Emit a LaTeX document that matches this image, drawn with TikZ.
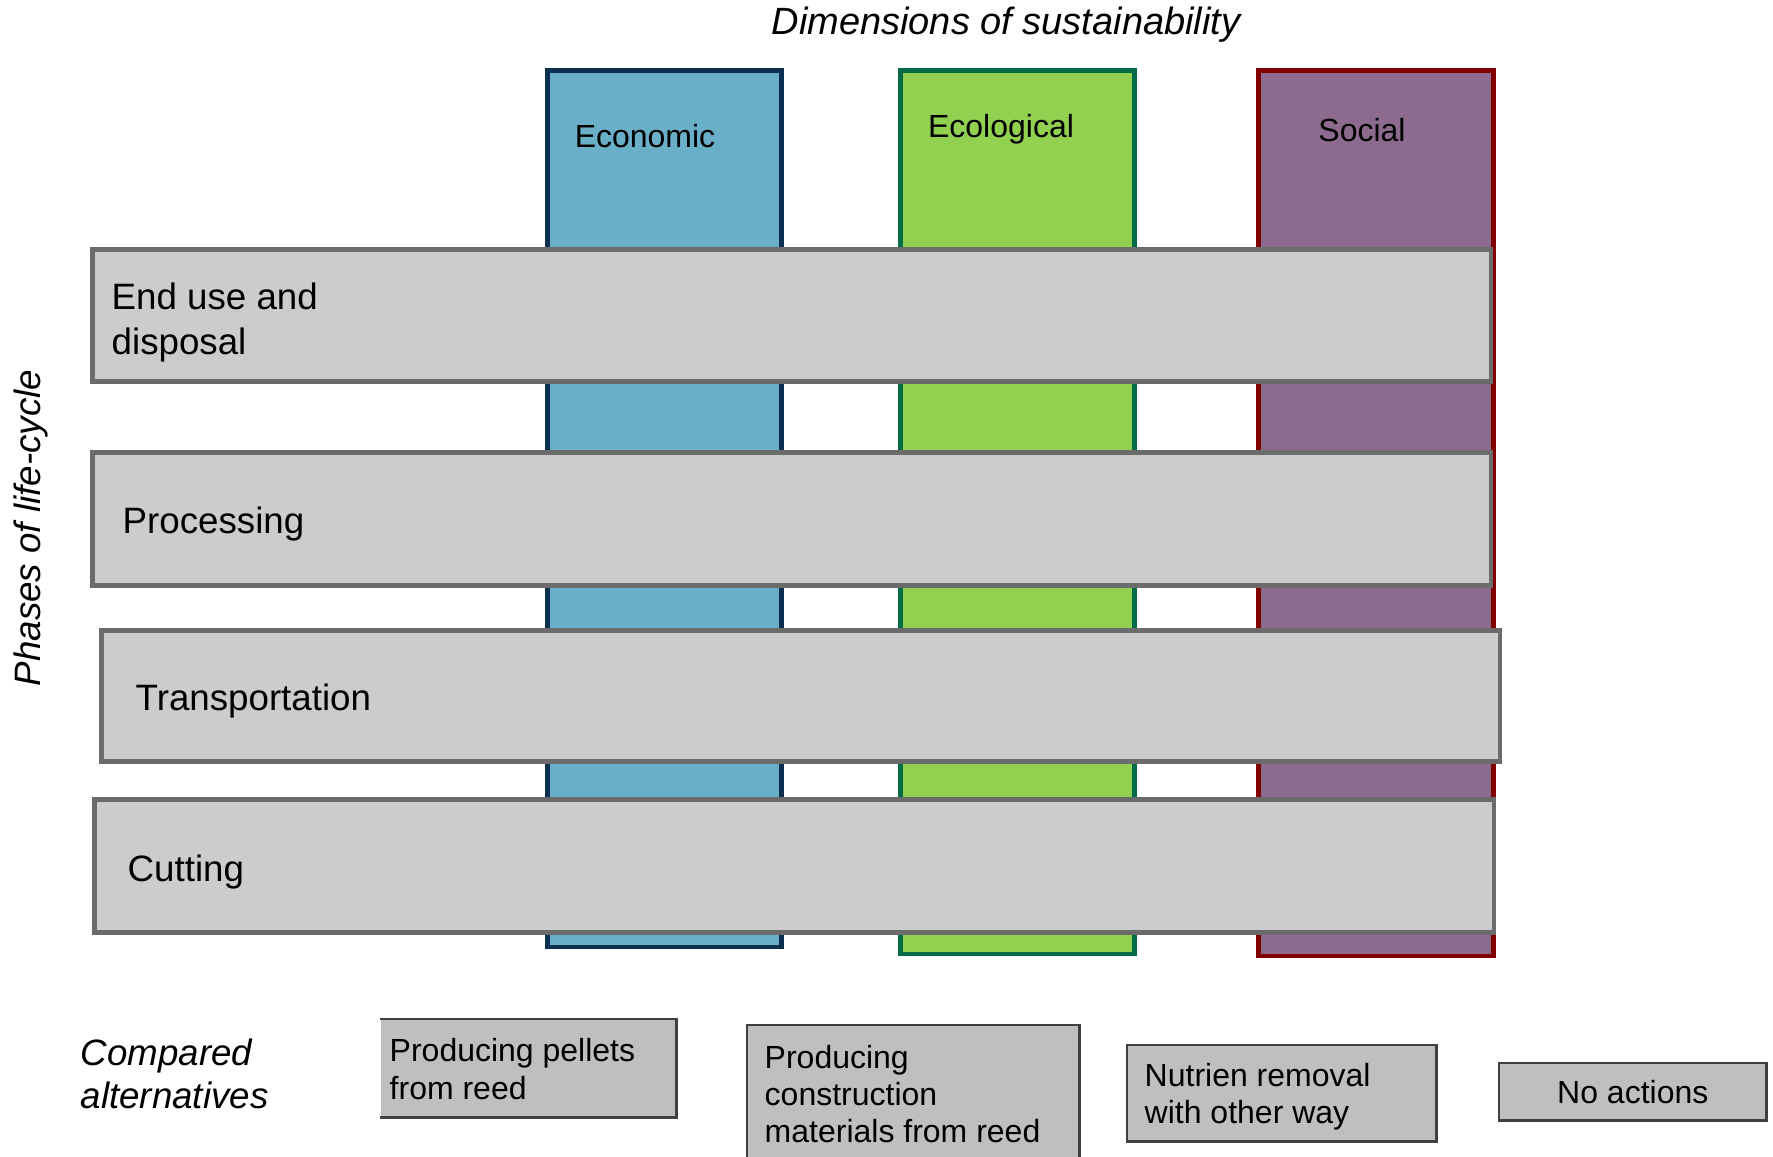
\documentclass[tikz,border=0pt]{standalone}
\usepackage{fontspec}
\setmainfont{Liberation Sans}
\definecolor{econfill}{HTML}{6AAFC8}
\definecolor{econline}{HTML}{0B2F4F}
\definecolor{ecolfill}{HTML}{92D050}
\definecolor{ecolline}{HTML}{006B47}
\definecolor{socfill}{HTML}{8D6B8F}
\definecolor{socline}{HTML}{800000}
\definecolor{barfill}{HTML}{CCCCCC}
\definecolor{barline}{HTML}{6B6B6B}
\definecolor{altfill}{HTML}{BFBFBF}
\definecolor{altline}{HTML}{404040}
\newcommand{\bigtxt}{\fontsize{10.44pt}{12.8pt}\selectfont}
\newcommand{\smalltxt}{\fontsize{9.1pt}{10.6pt}\selectfont}
\begin{document}
\begin{tikzpicture}[x=0.01cm,y=-0.01cm,
  col/.style={rectangle, inner sep=0pt, line width=1.4pt, anchor=north west},
  bar/.style={rectangle, inner sep=0pt, draw=barline, fill=barfill, line width=1.3pt, anchor=north west},
  phase/.style={anchor=west, inner sep=0pt, align=left, font=\bigtxt},
  dimlabel/.style={inner sep=0pt, font=\smalltxt},
  altbox/.style={rectangle, inner sep=0pt, fill=altfill, anchor=north west},
  alttext/.style={anchor=west, inner sep=0pt, align=left, font=\smalltxt},
  altedge/.style={draw=altline, line width=0.7pt}]
\useasboundingbox (0,0) rectangle (1773,1156);
\clip (0,0) rectangle (1773,1156);

% sustainability dimensions
\node[col, draw=econline, fill=econfill, minimum width=2.34cm, minimum height=8.76cm] (econ) at (545,68) {};
\node[col, draw=ecolline, fill=ecolfill, minimum width=2.34cm, minimum height=8.83cm] (ecol) at (898,68) {};
\node[col, draw=socline, fill=socfill, minimum width=2.35cm, minimum height=8.85cm] (soc) at (1256,68) {};
\node[dimlabel] (econlbl) at (645,136) {Economic};
\node[dimlabel] (ecollbl) at (1001,129) {Ecological};
\node[dimlabel] (soclbl) at (1362,130) {Social};

\node[inner sep=0pt, font=\fontsize{10.8pt}{13pt}\selectfont\itshape] (title) at (1006,25) {Dimensions of sustainability};

% life-cycle phases
\node[bar, minimum width=13.98cm, minimum height=1.32cm] (enduse) at (90,247) {};
\node[bar, minimum width=13.98cm, minimum height=1.33cm] (proc) at (90,450) {};
\node[bar, minimum width=13.98cm, minimum height=1.31cm] (trans) at (99,628) {};
\node[bar, minimum width=13.99cm, minimum height=1.33cm] (cut) at (92,797) {};
\node[phase] (enduselbl) at (111,322) {End use and\\disposal};
\node[phase] (proclbl) at (122,524) {Processing};
\node[phase] (translbl) at (135,701) {Transportation};
\node[phase] (cutlbl) at (127,872) {Cutting};

\node[inner sep=0pt, rotate=90, font=\bigtxt\itshape] (phases) at (31,528) {Phases of life-cycle};

% compared alternatives
\node[anchor=west, inner sep=0pt, align=left, font=\fontsize{10.44pt}{12.2pt}\selectfont\itshape] (cmp) at (80,1074) {Compared\\alternatives};

\node[altbox, minimum width=2.95cm, minimum height=0.97cm] (alt1) at (380,1019) {};
\draw[altedge] (alt1.north west) -- (alt1.north east) -- (alt1.south east) -- (alt1.south west);
\node[alttext] (alt1lbl) at (389,1069) {Producing pellets\\from reed};

\node[altbox, draw=altline, line width=0.7pt, minimum width=3.32cm, minimum height=1.6cm] (alt2) at (746,1024) {};
\node[alttext] (alt2lbl) at (764,1094) {Producing\\construction\\materials from reed};

\node[altbox, draw=altline, line width=0.7pt, minimum width=3.09cm, minimum height=0.96cm] (alt3) at (1126,1044) {};
\node[alttext] (alt3lbl) at (1144,1097) {Nutrien removal\\with other way};

\node[altbox, draw=altline, line width=0.7pt, minimum width=2.67cm, minimum height=0.57cm] (alt4) at (1498,1062) {};
\node[dimlabel] (alt4lbl) at (alt4.center) {No actions};
\end{tikzpicture}
\end{document}
